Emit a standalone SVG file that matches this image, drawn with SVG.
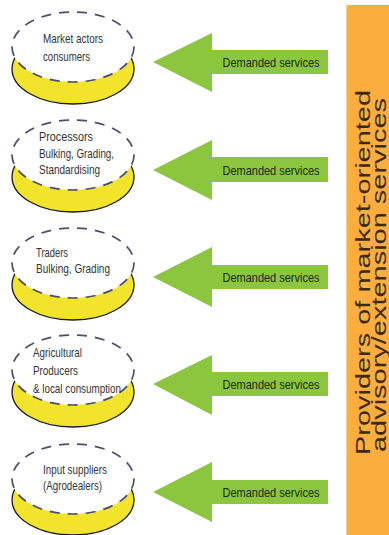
<svg xmlns="http://www.w3.org/2000/svg" width="389" height="535" viewBox="0 0 389 535">
<style>
.disc{fill:#F2E42A;stroke:#1a1a1a;stroke-width:1.3}
.top{fill:#ffffff;stroke:#4b4e6e;stroke-width:1.7;stroke-dasharray:10 8}
.lbl{font-family:"Liberation Sans",Arial,sans-serif;font-size:13.5px;fill:#333333}
.arrow{fill:#8CC63F}
.atxt{font-family:"Liberation Sans",Arial,sans-serif;font-size:13px;fill:#16280a;text-anchor:middle}
.ptxt{font-family:"Liberation Sans",Arial,sans-serif;font-size:20px;fill:#3a2a10}
</style>
<rect width="389" height="535" fill="#ffffff"/>
<g id="providers">
<rect x="346" y="5" width="43" height="530" fill="#FBAE3E"/>
<line x1="346.5" y1="5" x2="346.5" y2="535" stroke="#fcd089" stroke-width="1"/>
<text class="ptxt" transform="translate(370,455) rotate(-90)" textLength="365" lengthAdjust="spacingAndGlyphs">Providers of market-oriented</text>
<text class="ptxt" transform="translate(386,452) rotate(-90)" textLength="354" lengthAdjust="spacingAndGlyphs">advisory/extension services</text>
</g>
<g id="market-actors">
<ellipse class="disc" cx="73" cy="69" rx="61" ry="35"/>
<ellipse class="top" cx="73" cy="47" rx="61" ry="35"/>
<text class="lbl" x="43" y="43" textLength="60" lengthAdjust="spacingAndGlyphs">Market actors</text>
<text class="lbl" x="43" y="61" textLength="47" lengthAdjust="spacingAndGlyphs">consumers</text>
</g>
<g id="processors">
<ellipse class="disc" cx="73" cy="177" rx="61" ry="35"/>
<ellipse class="top" cx="73" cy="155" rx="61" ry="35"/>
<text class="lbl" x="39" y="141" textLength="54" lengthAdjust="spacingAndGlyphs">Processors</text>
<text class="lbl" x="39" y="158" textLength="75" lengthAdjust="spacingAndGlyphs">Bulking, Grading,</text>
<text class="lbl" x="39" y="174" textLength="61" lengthAdjust="spacingAndGlyphs">Standardising</text>
</g>
<g id="traders">
<ellipse class="disc" cx="73" cy="285" rx="61" ry="35"/>
<ellipse class="top" cx="73" cy="263" rx="61" ry="35"/>
<text class="lbl" x="36" y="257" textLength="32" lengthAdjust="spacingAndGlyphs">Traders</text>
<text class="lbl" x="36" y="273" textLength="74" lengthAdjust="spacingAndGlyphs">Bulking, Grading</text>
</g>
<g id="producers">
<ellipse class="disc" cx="73" cy="392" rx="61" ry="35"/>
<ellipse class="top" cx="73" cy="370" rx="61" ry="35"/>
<text class="lbl" x="33" y="357" textLength="49" lengthAdjust="spacingAndGlyphs">Agricultural</text>
<text class="lbl" x="33" y="375" textLength="45" lengthAdjust="spacingAndGlyphs">Producers</text>
<text class="lbl" x="33" y="393" textLength="88" lengthAdjust="spacingAndGlyphs">&amp; local consumption</text>
</g>
<g id="input-suppliers">
<ellipse class="disc" cx="73" cy="500" rx="61" ry="35"/>
<ellipse class="top" cx="73" cy="479" rx="61" ry="35"/>
<text class="lbl" x="43" y="474" textLength="64" lengthAdjust="spacingAndGlyphs">Input suppliers</text>
<text class="lbl" x="43" y="490" textLength="59" lengthAdjust="spacingAndGlyphs">(Agrodealers)</text>
</g>
<g id="connectors">
<g>
<polygon class="arrow" points="153,62 212,33 212,50 328,50 328,74 212,74 212,92"/>
<text class="atxt" x="271" y="66.5" textLength="97" lengthAdjust="spacingAndGlyphs">Demanded services</text>
</g>
<g>
<polygon class="arrow" points="153,170 212,140 212,157 328,157 328,182 212,182 212,200"/>
<text class="atxt" x="271" y="174.5" textLength="97" lengthAdjust="spacingAndGlyphs">Demanded services</text>
</g>
<g>
<polygon class="arrow" points="153,277 212,247 212,265 328,265 328,289 212,289 212,307"/>
<text class="atxt" x="271" y="281.5" textLength="97" lengthAdjust="spacingAndGlyphs">Demanded services</text>
</g>
<g>
<polygon class="arrow" points="153,384 212,355 212,372 328,372 328,396 212,396 212,415"/>
<text class="atxt" x="271" y="388.5" textLength="97" lengthAdjust="spacingAndGlyphs">Demanded services</text>
</g>
<g>
<polygon class="arrow" points="153,492 212,462 212,480 328,480 328,504 212,504 212,522"/>
<text class="atxt" x="271" y="496.5" textLength="97" lengthAdjust="spacingAndGlyphs">Demanded services</text>
</g>
</g>
</svg>
